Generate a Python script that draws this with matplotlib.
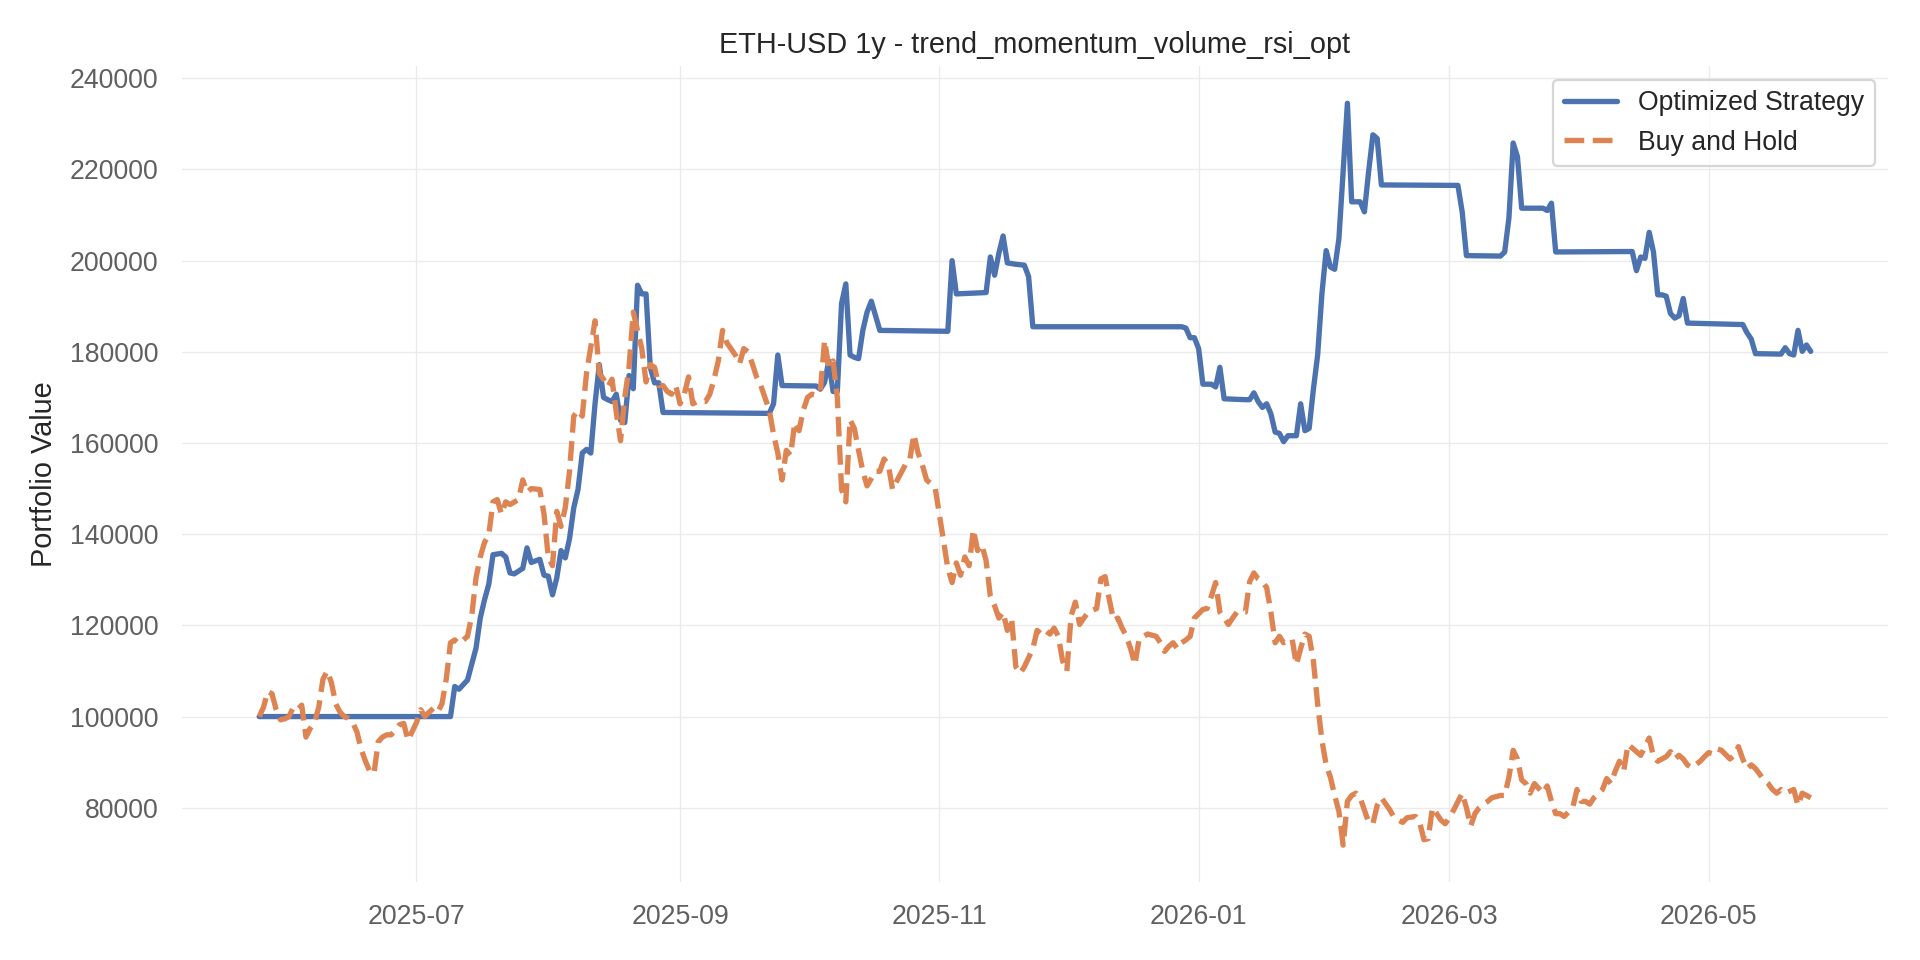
import matplotlib
matplotlib.use("Agg")
import matplotlib.pyplot as plt
import matplotlib.dates as mdates
import pandas as pd

start_date = "2025-05-25"

strategy_days = [0, 45, 46, 47, 49, 51, 52, 53, 54, 55, 57, 58, 59, 60, 62, 63, 64, 66, 67, 68, 69, 70, 71, 72, 73, 74, 75,
                 76, 77, 78, 79, 80, 81, 82, 83, 84, 85, 86, 87, 88, 89, 90, 91, 92, 93, 94, 95, 120, 121, 122, 123,
                 130, 131, 132, 133, 134, 135, 136, 137, 138, 139, 140, 141, 142, 143, 144, 145, 146, 162, 163, 164,
                 171, 172, 173, 174, 175, 176, 178, 180, 181, 182, 217, 218, 219, 220, 221, 222, 224, 225, 226, 227,
                 232, 233, 234, 235, 236, 237, 238, 239, 240, 241, 242, 244, 245, 246, 247, 248, 249, 250, 251, 252,
                 253, 254, 256, 257, 258, 259, 260, 261, 262, 263, 264, 282, 283, 284, 292, 293, 294, 295, 296, 297,
                 301, 302, 303, 304, 305, 322, 323, 324, 325, 326, 327, 328, 329, 330, 331, 332, 333, 334, 335, 336,
                 348, 349, 350, 351, 352, 358, 359, 360, 361, 362, 363, 364, 365]
strategy_values = [100000, 100000, 106600, 106000, 108000, 115000, 121600, 125600, 129000, 135500, 135800, 135000,
                   131500, 131300, 132500, 137000, 133800, 134500, 131000, 130800, 126700, 130400, 136400, 134800,
                   139000, 145800, 149800, 157800, 158600, 157800, 168600, 177200, 170000, 169500, 169100, 170700,
                   165000, 164500, 174800, 171900, 194600, 192700, 192700, 176600, 173200, 173200, 166700, 166500,
                   168600, 179300, 172600, 172500, 172500, 171800, 173300, 178000, 171300, 171300, 190600, 194900,
                   179300, 178800, 178500, 184700, 188700, 191100, 187900, 184700, 184500, 200000, 192700, 193000,
                   200800, 196800, 201600, 205400, 199500, 199200, 199000, 196500, 185500, 185500, 185200, 183100,
                   183100, 180700, 172900, 172900, 172300, 176600, 169700, 169500, 169500, 171000, 169100, 167800,
                   168600, 166400, 162400, 162100, 160300, 161600, 161600, 168600, 162700, 163200, 171800, 179300,
                   192700, 202200, 198600, 198100, 204800, 234500, 212900, 212900, 212900, 210700, 219600, 227600,
                   226800, 216600, 216500, 210700, 201100, 201000, 201900, 209400, 225800, 222800, 211500,
                   211500, 211500, 211000, 212600, 201900, 202000, 202000, 197800, 200800, 200500, 206200, 201900,
                   192500, 192500, 192200, 188400, 187400, 187900, 191700, 186300, 186000, 186000, 184200, 182800,
                   179600, 179500, 180900, 179600, 179300, 184700, 180100, 181500, 180100]

hold_days = [0, 1, 2, 3, 4, 5, 6, 7, 8, 9, 10, 11, 12, 13, 14, 15, 16, 17, 18, 19, 20, 21, 22, 23, 24, 25, 26, 27, 28,
             29, 30, 31, 32, 33, 34, 35, 37, 38, 39, 40, 41, 42, 43, 44, 45, 46, 47, 49, 50, 51, 52, 53, 54, 55, 56,
             57, 58, 59, 61, 62, 63, 64, 66, 67, 68, 69, 70, 71, 72, 73, 74, 75, 76, 77, 79, 80, 81, 82, 83, 84, 85,
             86, 87, 88, 90, 91, 92, 93, 94, 95, 96, 97, 98, 99, 100, 101, 102, 103, 105, 106, 107, 108, 109, 110,
             112, 113, 114, 115, 116, 117, 118, 120, 121, 122, 123, 124, 125, 126, 127, 128, 129, 130, 131, 132, 133,
             134, 135, 136, 137, 138, 139, 140, 141, 142, 143, 145, 146, 147, 148, 149, 150, 152, 153, 154, 155, 156,
             157, 158, 159, 160, 162, 163, 164, 165, 166, 167, 168, 169, 170, 171, 172, 173, 174, 175, 176, 177, 178,
             179, 180, 182, 183, 184, 185, 186, 187, 188, 189, 190, 191, 192, 193, 194, 195, 197, 198, 199, 200, 201,
             202, 203, 204, 205, 206, 207, 208, 209, 211, 212, 213, 214, 215, 216, 217, 218, 219, 220, 222, 223, 224,
             225, 226, 227, 228, 229, 230, 232, 233, 234, 235, 236, 237, 238, 239, 240, 241, 243, 244, 245, 246, 247,
             248, 249, 250, 251, 252, 253, 254, 255, 256, 257, 258, 259, 260, 261, 262, 263, 264, 266, 267, 268, 269,
             270, 272, 273, 274, 275, 276, 277, 278, 279, 280, 281, 283, 284, 285, 286, 287, 288, 289, 290, 292, 293,
             294, 295, 296, 297, 298, 299, 300, 302, 303, 304, 305, 306, 307, 309, 310, 311, 312, 313, 314, 316, 317,
             318, 319, 320, 321, 322, 324, 325, 326, 327, 328, 329, 331, 332, 333, 334, 335, 336, 337, 339, 340, 341,
             342, 343, 344, 346, 347, 348, 349, 350, 351, 352, 354, 355, 356, 357, 358, 359, 361, 362, 363, 364, 365]
hold_values = [100000, 102000, 105500, 105000, 101500, 99300, 99500, 100000, 102000, 101500, 102500, 95500, 97400,
               98700, 102000, 108200, 110000, 107400, 102800, 101000, 100000, 99600, 98700, 96600, 92800, 90200, 88000,
               87500, 94500, 95500, 96000, 96000, 96900, 98200, 98500, 94800, 98700, 101500, 100000, 101000, 101800,
               101000, 102800, 108200, 116200, 116800, 116000, 117600, 122100, 130400, 135000, 138200, 139800, 147100,
               147600, 144400, 147100, 146500, 147600, 151900, 149200, 150000, 149800, 144400, 135000, 133100, 145000,
               141700, 145800, 153800, 165900, 167200, 165900, 175300, 186800, 175300, 174000, 172300, 174000, 166700,
               160500, 170000, 176600, 188700, 180700, 173400, 177200, 176600, 172600, 172600, 171300, 170700, 172600,
               168600, 170700, 174500, 168600, 169100, 169100, 170700, 174000, 178000, 184700, 182000, 179300, 177400,
               180700, 180000, 177400, 174500, 172600, 167200, 161900, 157800, 151900, 158400, 157300, 164500, 162700,
               167200, 170000, 170700, 170500, 171300, 182500, 176600, 178000, 170000, 149800, 147100, 165100, 163200,
               158400, 153800, 150600, 153800, 153800, 156500, 155200, 149800, 151700, 155200, 156000, 161900, 157800,
               155200, 151900, 151100, 150300, 144400, 132500, 129400, 133700, 131000, 135000, 133100, 141000, 136400,
               137700, 134200, 126400, 124300, 121600, 122900, 118900, 121600, 110900, 109500, 110900, 114900, 118900,
               118100, 118900, 118100, 119400, 117600, 112200, 110000, 122100, 125100, 120200, 121600, 122900, 123700,
               130200, 130700, 125600, 121100, 121600, 119400, 117600, 114900, 111400, 117000, 117600, 118100, 117600,
               116200, 114300, 115400, 116200, 114900, 116200, 116800, 117600, 121600, 123500, 123700, 126400, 129400,
               122900, 121600, 120200, 121600, 122900, 122900, 129600, 131500, 130200, 129600, 128300, 122900, 116200,
               117600, 116200, 117000, 111400, 114900, 118100, 117600, 112200, 102800, 94800, 89400, 86700, 82700,
               79200, 71800, 81400, 82700, 83200, 82200, 79500, 76800, 76500, 80500, 82200, 79500, 77800, 77300, 76800,
               77800, 78100, 76800, 73000, 73200, 80000, 78700, 77300, 76500, 77800, 79500, 83200, 80000, 76000, 78700,
               80000, 80800, 81400, 82200, 82700, 82700, 86700, 92600, 90700, 86100, 85300, 83200, 85300, 83200, 84800,
               81400, 78700, 78700, 78100, 80000, 84000, 81400, 81400, 80800, 82200, 84000, 86400, 85300, 88000, 90200,
               88000, 93900, 92300, 91500, 93400, 95300, 91200, 90200, 91200, 92300, 90700, 91500, 90700, 89400, 88800,
               90200, 91200, 92100, 91800, 92900, 92600, 90700, 91500, 93400, 90700, 88600, 89400, 88600, 86100, 85300,
               84000, 83200, 84000, 83200, 84000, 80500, 83200, 82700, 82200]

title = "ETH-USD 1y - trend_momentum_volume_rsi_opt"
ylabel = "Portfolio Value"
series_names = ["Optimized Strategy", "Buy and Hold"]

plt.rcParams['font.family'] = ['Liberation Sans', 'DejaVu Sans']

t0 = pd.Timestamp(start_date)
strategy_dates = t0 + pd.to_timedelta(strategy_days, unit="D")
hold_dates = t0 + pd.to_timedelta(hold_days, unit="D")

fig, ax = plt.subplots(figsize=(12, 6), dpi=160)
fig.subplots_adjust(left=0.0946, right=0.9835, bottom=0.081, top=0.931)

ax.plot(strategy_dates, strategy_values, color="#4C72B0", lw=2.4, label=series_names[0],
        solid_capstyle="round", solid_joinstyle="round")
ax.plot(hold_dates, hold_values, color="#DD8452", lw=2.4, ls="--", label=series_names[1])

ax.set_title(title, fontsize=13, color="#262626")
ax.set_ylabel(ylabel, fontsize=13, color="#262626", labelpad=5)
ax.grid(True, color="#EBEBEB", lw=0.6)
ax.set_axisbelow(True)
for s in ax.spines.values():
    s.set_visible(False)
ax.tick_params(axis="both", length=0, labelsize=12, labelcolor="#606060")
ax.tick_params(axis="x", pad=9.8)
ax.tick_params(axis="y", pad=10.5)

ax.xaxis.set_major_locator(mdates.MonthLocator(bymonth=[1, 3, 5, 7, 9, 11]))
ax.xaxis.set_major_formatter(mdates.DateFormatter("%Y-%m"))

leg = ax.legend(loc="upper right", fontsize=12, frameon=True, fancybox=True, framealpha=0.8,
                edgecolor="#CCCCCC")
for t in leg.get_texts():
    t.set_color("#262626")

fig.savefig("out.png", dpi=160, facecolor="white")
